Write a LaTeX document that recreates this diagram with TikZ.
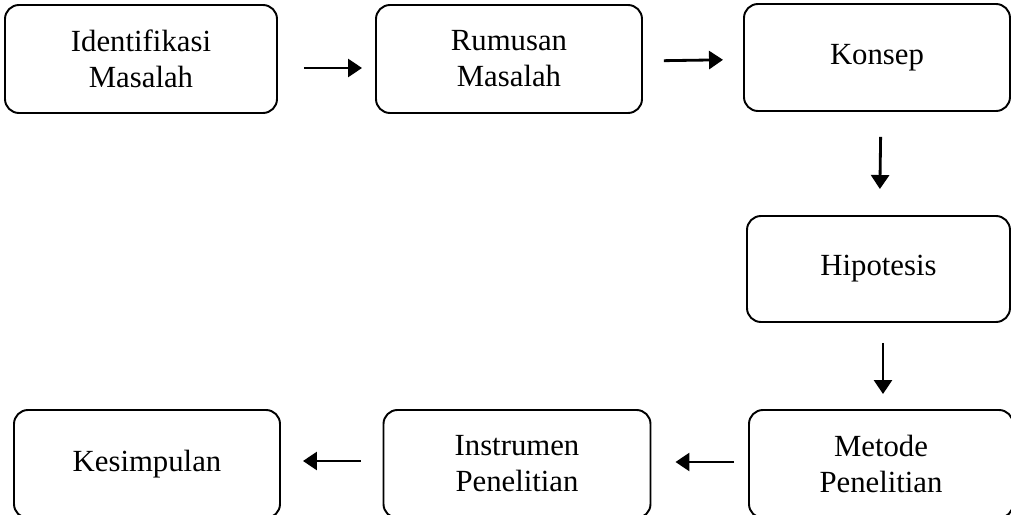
\documentclass[tikz,border=0pt]{standalone}
\usepackage{fontspec}
\setmainfont{Liberation Serif}
\usepackage{tikz}
\usetikzlibrary{arrows.meta}
\usetikzlibrary{positioning}

\begin{document}
\begin{tikzpicture}[
        box/.style={draw,line width=1.1pt,rounded corners=0.28cm,align=center,inner sep=0pt,
            minimum height=2.16cm,font=\fontsize{17.5}{20.5}\selectfont},
        panah/.style={-{Triangle[length=2.8mm,width=3.6mm]},line width=1.6pt}]
        \useasboundingbox (0,0) rectangle (20.22,10.3);

        \node [box,minimum width=5.44cm] (ident) at (2.82,9.12) {Identifikasi\\Masalah};
        \node [box,minimum width=5.32cm] (rumusan) at (10.18,9.12) {Rumusan\\Masalah};
        \node [box,minimum width=5.32cm,minimum height=2.14cm] (konsep) at (17.54,9.15) {Konsep};
        \node [box,minimum width=5.26cm,minimum height=2.12cm] (hipotesis) at (17.57,4.92) {Hipotesis};
        \node [box,minimum width=5.28cm] (metode) at (17.62,1.02) {Metode\\Penelitian};
        \node [box,minimum width=5.34cm] (instrumen) at (10.34,1.02) {Instrumen\\Penelitian};
        \node [box,minimum width=5.32cm] (simpulan) at (2.94,1.02) {Kesimpulan};

        % alur
        \draw [panah,shorten <=0.52cm,shorten >=0.26cm] ([yshift=-0.18cm]ident.east) -- ([yshift=-0.18cm]rumusan.west);
        \draw [panah,shorten <=0.42cm,shorten >=0.4cm] ([yshift=-0.04cm]rumusan.east) -- ([yshift=-0.04cm]konsep.west);
        \draw [panah,shorten <=0.5cm,shorten >=0.52cm] ([xshift=0.08cm]konsep.south) -- ([xshift=0.05cm]konsep.south |- hipotesis.north);
        \draw [panah,shorten <=0.4cm,shorten >=0.3cm] ([xshift=0.09cm]hipotesis.south) -- ([xshift=0.09cm]hipotesis.south |- metode.north);
        \draw [panah,shorten <=0.28cm,shorten >=0.48cm] ([yshift=0.04cm]metode.west) -- ([yshift=0.04cm]instrumen.east);
        \draw [panah,shorten <=0.44cm,shorten >=0.44cm] ([yshift=0.06cm]instrumen.west) -- ([yshift=0.06cm]simpulan.east);
    \end{tikzpicture}
\end{document}
